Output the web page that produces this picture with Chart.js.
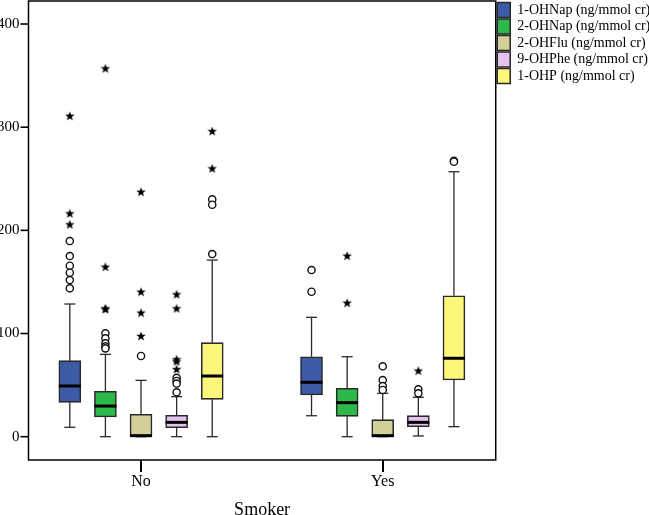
<!DOCTYPE html>
<html><head><meta charset="utf-8">
<script src="https://cdn.jsdelivr.net/npm/chart.js@4/dist/chart.umd.min.js"></script>
<style>html,body{margin:0;padding:0;background:#fff;overflow:hidden}</style>
</head><body>
<canvas id="c" width="649" height="515"></canvas>
<script>
const groups = ['No', 'Yes'];
const seriesNames = ['1-OHNap (ng/mmol cr)', '2-OHNap (ng/mmol cr)', '2-OHFlu (ng/mmol cr)', '9-OHPhe (ng/mmol cr)', '1-OHP (ng/mmol cr)'];
const seriesColors = ['#3d5aa7', '#2db84b', '#d4ce9a', '#e4c3f0', '#fcf77a'];
const yTicks = [0, 100, 200, 300, 400];

// per series, [No, Yes]
const whiskerLow  = [[9.1, 20.3], [0, 0], [0, 0], [0, 0.7], [0, 9.7]];
const q1          = [[33.3, 40.4], [19.1, 19.7], [0, 0], [8.7, 9.7], [36.2, 55.0]];
const median      = [[49.1, 52.7], [29.7, 33.0], [0, 0], [13.9, 13.9], [58.8, 76.0]];
const q3          = [[73.7, 77.5], [44.0, 46.9], [21.7, 16.5], [20.7, 20.4], [91.1, 136.6]];
const whiskerHigh = [[128.6, 115.7], [79.8, 77.5], [54.6, 42.0], [38.8, 38.2], [171.2, 256.8]];

// outliers (circles), per series, [No, Yes]
const outliers = [
  [[189.6, 175.1, 165.7, 158.9, 151.8, 143.8], [161.5, 140.5]],
  [[100.2, 95.3, 90.5, 87.5, 85.6], []],
  [[78.2], [68.2, 54.9, 49.1, 45.3]],
  [[57.0, 54.0, 51.5, 43.0], [45.9, 42.0]],
  [[230.0, 224.8, 177.0], [267.5, 266.5]]
];
// extremes (stars), per series, [No, Yes]
const extremes = [
  [[311.0, 216.5, 205.8], []],
  [[357.0, 164.7, 124.4, 123.6], [175.4, 129.8]],
  [[237.4, 140.5, 120.2, 97.6], []],
  [[138.0, 124.4, 75.0, 73.0, 65.5], [64.0]],
  [[296.2, 260.1], []]
];

const FONT = '"Liberation Serif", "Times New Roman", serif';
const BOX_STEP = 0.1473;   // spacing between boxes inside a group (category units)
const offsetOf = si => (si - 2) * BOX_STEP;

function makeStar(size) {
  const c = document.createElement('canvas');
  c.width = size; c.height = size;
  const g = c.getContext('2d');
  g.fillStyle = '#000';
  g.beginPath();
  const cx = size / 2, cy = size / 2 + 0.4, R = size / 2, r = R * 0.42;
  for (let i = 0; i < 10; i++) {
    const a = -Math.PI / 2 + i * Math.PI / 5;
    const rad = i % 2 ? r : R;
    g.lineTo(cx + rad * Math.cos(a), cy + rad * Math.sin(a));
  }
  g.closePath(); g.fill();
  return c;
}
const starImg = makeStar(10);

const datasets = [];
seriesNames.forEach((name, si) => {
  datasets.push({
    type: 'bar', label: name,
    data: groups.map((g, gi) => ({ x: gi + offsetOf(si), y: [q1[si][gi], q3[si][gi]] })),
    backgroundColor: seriesColors[si], borderColor: '#2a2a2a', borderWidth: 1.6, borderSkipped: false,
    barThickness: 22, grouped: false, order: 2
  });
});
seriesNames.forEach((name, si) => {
  const pts = [];
  groups.forEach((g, gi) => outliers[si][gi].forEach(v => pts.push({ x: gi + offsetOf(si), y: v })));
  datasets.push({
    type: 'scatter', label: name + ' outliers', data: pts,
    pointStyle: 'circle', pointRadius: 3.6, pointBorderWidth: 1.4,
    pointBorderColor: '#111', pointBackgroundColor: '#fff', order: 1
  });
});
seriesNames.forEach((name, si) => {
  const pts = [];
  groups.forEach((g, gi) => extremes[si][gi].forEach(v => pts.push({ x: gi + offsetOf(si), y: v })));
  datasets.push({
    type: 'scatter', label: name + ' extremes', data: pts,
    pointStyle: starImg, pointRadius: 5, order: 1
  });
});

const boxExtras = {
  id: 'boxExtras',
  beforeDatasetsDraw(chart) {
    const ctx = chart.ctx;
    const x = chart.scales.x, y = chart.scales.y;
    ctx.save();
    ctx.strokeStyle = '#2a2a2a';
    ctx.lineWidth = 1.3;
    seriesNames.forEach((n, si) => {
      groups.forEach((g, gi) => {
        const px = x.getPixelForValue(gi + offsetOf(si));
        [[q3[si][gi], whiskerHigh[si][gi]], [q1[si][gi], whiskerLow[si][gi]]].forEach(([a, b]) => {
          if (a === b) return;
          ctx.beginPath(); ctx.moveTo(px, y.getPixelForValue(a)); ctx.lineTo(px, y.getPixelForValue(b)); ctx.stroke();
        });
        [whiskerHigh[si][gi], whiskerLow[si][gi]].forEach(v => {
          const yy = y.getPixelForValue(v);
          ctx.beginPath(); ctx.moveTo(px - 5.5, yy); ctx.lineTo(px + 5.5, yy); ctx.stroke();
        });
      });
    });
    ctx.restore();
  },
  afterDatasetDraw(chart, args) {
    const si = args.index;
    if (si >= seriesNames.length) return;
    const ctx = chart.ctx, y = chart.scales.y;
    const meta = chart.getDatasetMeta(si);
    ctx.save();
    ctx.strokeStyle = '#000';
    ctx.lineWidth = 3;
    meta.data.forEach((bar, gi) => {
      const yy = y.getPixelForValue(median[si][gi]) - (median[si][gi] === q1[si][gi] ? 1 : 0);
      ctx.beginPath(); ctx.moveTo(bar.x - bar.width / 2, yy); ctx.lineTo(bar.x + bar.width / 2, yy); ctx.stroke();
    });
    ctx.restore();
  },
  afterDraw(chart) {
    const ctx = chart.ctx, a = chart.chartArea;
    const x = chart.scales.x, y = chart.scales.y;
    ctx.save();
    ctx.strokeStyle = '#000';
    ctx.fillStyle = '#000';
    ctx.lineWidth = 1.5;
    ctx.strokeRect(a.left, a.top, a.right - a.left, a.bottom - a.top);
    groups.forEach((g, i) => {
      const px = Math.round(x.getPixelForValue(i));
      ctx.fillRect(px - 1, a.bottom, 2, 12);
    });
    yTicks.forEach(v => {
      const py = y.getPixelForValue(v);
      ctx.fillRect(a.left - 8, py - 0.8, 8, 1.6);
    });
    ctx.restore();
  }
};

new Chart(document.getElementById('c'), {
  data: { datasets },
  options: {
    responsive: false,
    animation: false,
    layout: { autoPadding: false, padding: { left: 0, right: -11.2, top: 1, bottom: 0 } },
    plugins: {
      tooltip: { enabled: false },
      legend: {
        position: 'right', align: 'start',
        labels: {
          boxWidth: 13, boxHeight: 15, padding: 1.5, color: '#000',
          font: { family: FONT, size: 14 },
          filter: item => item.datasetIndex < seriesNames.length
        }
      }
    },
    scales: {
      x: {
        type: 'linear', min: -0.4655, max: 1.4675, offset: false,
        afterBuildTicks: s => { s.ticks = groups.map((g, i) => ({ value: i })); },
        afterFit: s => { s.height = 55; s.paddingLeft = 0; s.paddingRight = 0; },
        ticks: { callback: v => groups[v], color: '#000', font: { family: FONT, size: 16 }, padding: 1, maxRotation: 0 },
        grid: { display: false, drawOnChartArea: false, drawTicks: true, tickLength: 11 },
        border: { display: false },
        title: { display: true, text: 'Smoker', color: '#000', font: { family: FONT, size: 18 }, padding: { top: 0, bottom: -6 } }
      },
      y: {
        type: 'linear', min: -22.6, max: 422.3,
        afterBuildTicks: s => { s.ticks = yTicks.map(v => ({ value: v })); },
        afterFit: s => { s.width = 28.5; s.paddingTop = 0; s.paddingBottom = 0; },
        ticks: { color: '#000', font: { family: FONT, size: 15 }, padding: 1 },
        grid: { display: false, drawOnChartArea: false, drawTicks: true, tickLength: 8 },
        border: { display: false }
      }
    }
  },
  plugins: [boxExtras]
});
</script>
</body></html>
